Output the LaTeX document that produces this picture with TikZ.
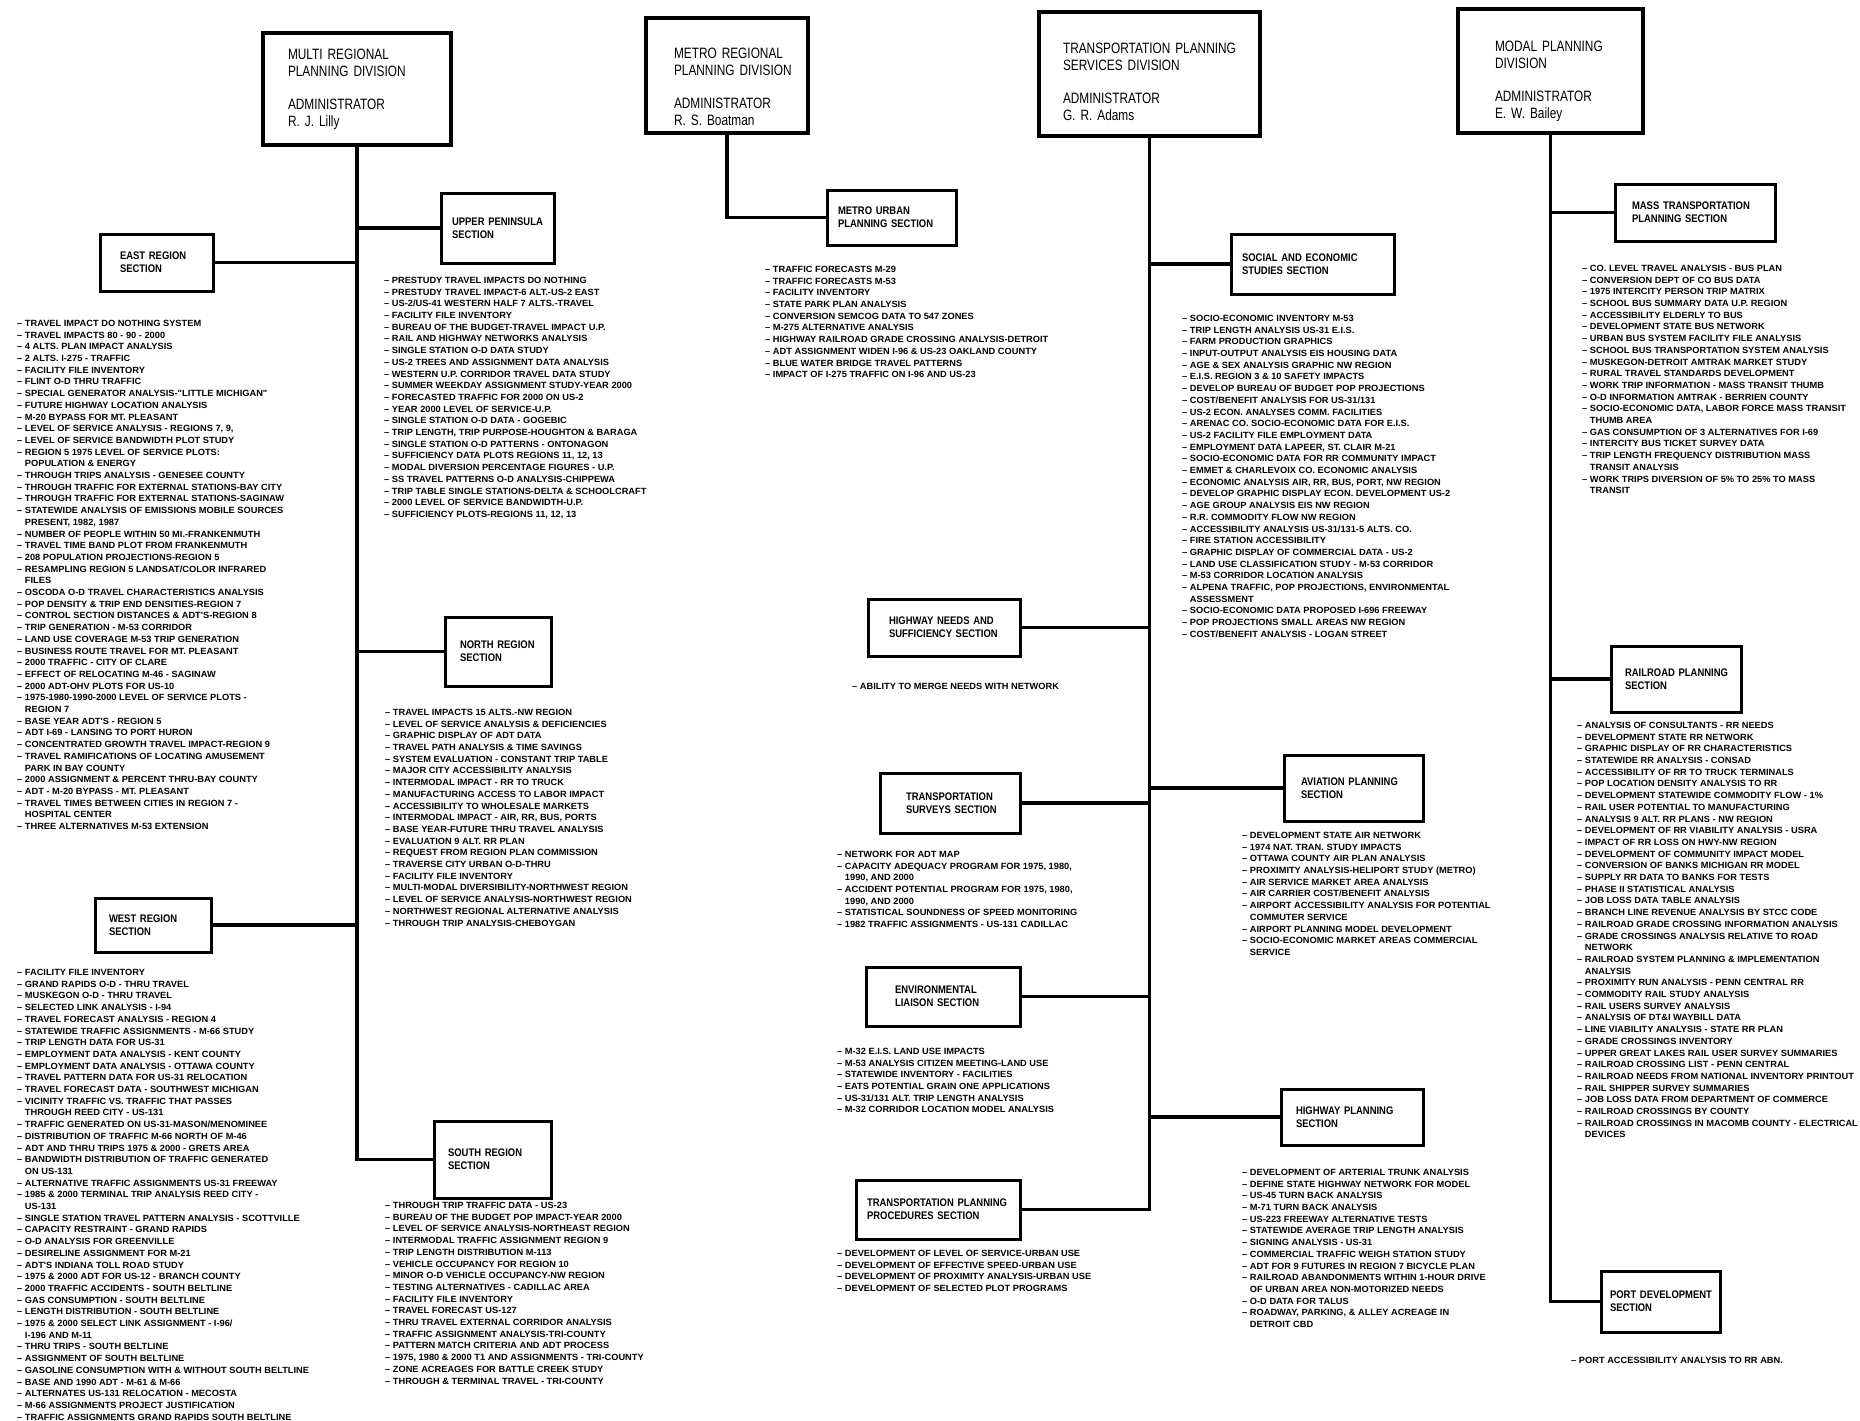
\documentclass[tikz,border=0pt]{standalone}
\usepackage{fontspec}
\usepackage{tikz}
\newfontfamily\divfont{Liberation Sans}[FakeStretch=0.79]
\newfontfamily\secfont{Liberation Sans}[FakeStretch=0.86]
\newfontfamily\listfont{Liberation Sans}[FakeStretch=1.03]
\newcommand{\task}{\textendash\ }
\newcommand{\taskcont}{\hphantom{\textendash\ }}
\newcommand{\lowerby}[1]{\rule{0pt}{#1}}
\tikzstyle{divbox} = [rectangle, draw, line width=3.5pt, align=left, inner xsep=25pt, font=\divfont\fontsize{15}{17}\selectfont]
\tikzstyle{sectionbox} = [rectangle, draw, line width=3pt, align=left, inner xsep=15pt, font=\secfont\bfseries\fontsize{11}{13}\selectfont]
\tikzstyle{tasklist} = [anchor=north west, align=left, inner sep=0pt, font=\listfont\bfseries\fontsize{9}{11.7}\selectfont]
\tikzstyle{trunk} = [line width=3.5pt]

\begin{document}
\begin{tikzpicture}[x=1pt, y=-1pt]
    \fill[white] (0,0) rectangle (1860,1421);
    \useasboundingbox (0,0) rectangle (1860,1421);

    % Divisions
    \node[divbox, minimum width=188pt, minimum height=112pt, text width=138pt] (mrpd) at (357, 89) {\mbox{MULTI REGIONAL}\\\mbox{PLANNING DIVISION}\\[16pt]ADMINISTRATOR\\\mbox{R. J. Lilly}};
    \node[divbox, minimum width=162pt, minimum height=115pt, inner xsep=28pt, text width=106pt] (mrrpd) at (727, 75.5) {\lowerby{33pt}\mbox{METRO REGIONAL}\\\mbox{PLANNING DIVISION}\\[16pt]ADMINISTRATOR\\\mbox{R. S. Boatman}};
    \node[divbox, minimum width=221pt, minimum height=124pt, inner xsep=24pt, text width=173pt] (tpsd) at (1149.5, 74) {\lowerby{27pt}\mbox{TRANSPORTATION PLANNING}\\\mbox{SERVICES DIVISION}\\[16pt]ADMINISTRATOR\\\mbox{G. R. Adams}};
    \node[divbox, minimum width=185pt, minimum height=124pt, inner xsep=37pt, text width=111pt] (mpd) at (1550.5, 71) {\lowerby{31pt}\mbox{MODAL PLANNING}\\DIVISION\\[16pt]ADMINISTRATOR\\\mbox{E. W. Bailey}};

    % Sections
    \node[sectionbox, minimum height=70pt, inner xsep=11pt, text width=91pt] (ups) at (497.5, 228) {\mbox{UPPER PENINSULA}\\SECTION};
    \node[sectionbox, minimum height=57pt, inner xsep=20pt, text width=73pt] (east) at (156.5, 262.5) {\mbox{EAST REGION}\\SECTION};
    \node[sectionbox, minimum height=69pt, inner xsep=15pt, text width=76pt] (north) at (498, 651.5) {\mbox{NORTH REGION}\\SECTION};
    \node[sectionbox, minimum height=54pt, inner xsep=14pt, text width=88pt] (west) at (153, 925) {\mbox{WEST REGION}\\SECTION};
    \node[sectionbox, minimum height=77pt, inner xsep=14pt, text width=89pt] (south) at (492.5, 1159.5) {\mbox{SOUTH REGION}\\SECTION};
    \node[sectionbox, minimum height=55pt, inner xsep=11pt, text width=107pt] (mu) at (891.5, 217.5) {\mbox{METRO URBAN}\\\mbox{PLANNING SECTION}};
    \node[sectionbox, minimum height=60pt, inner xsep=11pt, text width=141pt] (socio) at (1312.5, 264) {\mbox{SOCIAL AND ECONOMIC}\\\mbox{STUDIES SECTION}};
    \node[sectionbox, minimum height=57pt, inner xsep=21pt, text width=110pt] (hns) at (944, 627.5) {\mbox{HIGHWAY NEEDS AND}\\\mbox{SUFFICIENCY SECTION}};
    \node[sectionbox, minimum height=66pt, inner xsep=17pt, text width=105pt] (avi) at (1353.5, 788) {\mbox{AVIATION PLANNING}\\SECTION};
    \node[sectionbox, minimum height=60pt, inner xsep=26pt, text width=88pt] (tss) at (950, 803) {TRANSPORTATION\\\mbox{SURVEYS SECTION}};
    \node[sectionbox, minimum height=59pt, inner xsep=29pt, text width=96pt] (env) at (943, 996.5) {ENVIRONMENTAL\\\mbox{LIAISON SECTION}};
    \node[sectionbox, minimum height=59pt, inner xsep=11pt, text width=142pt] (tpp) at (938, 1209.5) {\mbox{TRANSPORTATION PLANNING}\\\mbox{PROCEDURES SECTION}};
    \node[sectionbox, minimum height=56pt, inner xsep=15pt, text width=112pt] (hps) at (1352, 1117) {\mbox{HIGHWAY PLANNING}\\SECTION};
    \node[sectionbox, minimum height=57pt, inner xsep=17pt, text width=126pt] (mts) at (1695, 212.5) {\mbox{MASS TRANSPORTATION}\\\mbox{PLANNING SECTION}};
    \node[sectionbox, minimum height=66pt, inner xsep=14pt, text width=102pt] (rps) at (1676, 679) {\mbox{RAILROAD PLANNING}\\SECTION};
    \node[sectionbox, minimum height=61pt, inner xsep=9pt, text width=101pt] (pds) at (1660.5, 1301.5) {\mbox{PORT DEVELOPMENT}\\SECTION};

    % Trunks and branches
    \draw[trunk] (mrpd.south) |- (south.west);
    \draw[trunk] (ups.west) -- (ups.west -| mrpd.south);
    \draw[trunk] (east.east) -- (east.east -| mrpd.south);
    \draw[trunk] (north.west) -- (north.west -| mrpd.south);
    \draw[trunk] (west.east) -- (west.east -| mrpd.south);
    \draw[trunk] (mrrpd.south) |- (mu.west);
    \draw[trunk] (tpsd.south) |- (tpp.east);
    \draw[trunk] (socio.west) -- (socio.west -| tpsd.south);
    \draw[trunk] (hns.east) -- (hns.east -| tpsd.south);
    \draw[trunk] (avi.west) -- (avi.west -| tpsd.south);
    \draw[trunk] (tss.east) -- (tss.east -| tpsd.south);
    \draw[trunk] (env.east) -- (env.east -| tpsd.south);
    \draw[trunk] (hps.west) -- (hps.west -| tpsd.south);
    \draw[trunk] (mpd.south) |- (pds.west);
    \draw[trunk] (mts.west) -- (mts.west -| mpd.south);
    \draw[trunk] (rps.west) -- (rps.west -| mpd.south);

    % Work lists
    \node[tasklist] (eastlist) at (17, 320) {%
\task TRAVEL IMPACT DO NOTHING SYSTEM\\
\task TRAVEL IMPACTS 80 - 90 - 2000\\
\task 4 ALTS. PLAN IMPACT ANALYSIS\\
\task 2 ALTS. I-275 - TRAFFIC\\
\task FACILITY FILE INVENTORY\\
\task FLINT O-D THRU TRAFFIC\\
\task SPECIAL GENERATOR ANALYSIS-"LITTLE MICHIGAN"\\
\task FUTURE HIGHWAY LOCATION ANALYSIS\\
\task M-20 BYPASS FOR MT. PLEASANT\\
\task LEVEL OF SERVICE ANALYSIS - REGIONS 7, 9,\\
\task LEVEL OF SERVICE BANDWIDTH PLOT STUDY\\
\task REGION 5 1975 LEVEL OF SERVICE PLOTS:\\
\taskcont POPULATION \& ENERGY\\
\task THROUGH TRIPS ANALYSIS - GENESEE COUNTY\\
\task THROUGH TRAFFIC FOR EXTERNAL STATIONS-BAY CITY\\
\task THROUGH TRAFFIC FOR EXTERNAL STATIONS-SAGINAW\\
\task STATEWIDE ANALYSIS OF EMISSIONS MOBILE SOURCES\\
\taskcont PRESENT, 1982, 1987\\
\task NUMBER OF PEOPLE WITHIN 50 MI.-FRANKENMUTH\\
\task TRAVEL TIME BAND PLOT FROM FRANKENMUTH\\
\task 208 POPULATION PROJECTIONS-REGION 5\\
\task RESAMPLING REGION 5 LANDSAT/COLOR INFRARED\\
\taskcont FILES\\
\task OSCODA O-D TRAVEL CHARACTERISTICS ANALYSIS\\
\task POP DENSITY \& TRIP END DENSITIES-REGION 7\\
\task CONTROL SECTION DISTANCES \& ADT'S-REGION 8\\
\task TRIP GENERATION - M-53 CORRIDOR\\
\task LAND USE COVERAGE M-53 TRIP GENERATION\\
\task BUSINESS ROUTE TRAVEL FOR MT. PLEASANT\\
\task 2000 TRAFFIC - CITY OF CLARE\\
\task EFFECT OF RELOCATING M-46 - SAGINAW\\
\task 2000 ADT-OHV PLOTS FOR US-10\\
\task 1975-1980-1990-2000 LEVEL OF SERVICE PLOTS -\\
\taskcont REGION 7\\
\task BASE YEAR ADT'S - REGION 5\\
\task ADT I-69 - LANSING TO PORT HURON\\
\task CONCENTRATED GROWTH TRAVEL IMPACT-REGION 9\\
\task TRAVEL RAMIFICATIONS OF LOCATING AMUSEMENT\\
\taskcont PARK IN BAY COUNTY\\
\task 2000 ASSIGNMENT \& PERCENT THRU-BAY COUNTY\\
\task ADT - M-20 BYPASS - MT. PLEASANT\\
\task TRAVEL TIMES BETWEEN CITIES IN REGION 7 -\\
\taskcont HOSPITAL CENTER\\
\task THREE ALTERNATIVES M-53 EXTENSION};

    \node[tasklist] (upslist) at (384, 277) {%
\task PRESTUDY TRAVEL IMPACTS DO NOTHING\\
\task PRESTUDY TRAVEL IMPACT-6 ALT.-US-2 EAST\\
\task US-2/US-41 WESTERN HALF 7 ALTS.-TRAVEL\\
\task FACILITY FILE INVENTORY\\
\task BUREAU OF THE BUDGET-TRAVEL IMPACT U.P.\\
\task RAIL AND HIGHWAY NETWORKS ANALYSIS\\
\task SINGLE STATION O-D DATA STUDY\\
\task US-2 TREES AND ASSIGNMENT DATA ANALYSIS\\
\task WESTERN U.P. CORRIDOR TRAVEL DATA STUDY\\
\task SUMMER WEEKDAY ASSIGNMENT STUDY-YEAR 2000\\
\task FORECASTED TRAFFIC FOR 2000 ON US-2\\
\task YEAR 2000 LEVEL OF SERVICE-U.P.\\
\task SINGLE STATION O-D DATA - GOGEBIC\\
\task TRIP LENGTH, TRIP PURPOSE-HOUGHTON \& BARAGA\\
\task SINGLE STATION O-D PATTERNS - ONTONAGON\\
\task SUFFICIENCY DATA PLOTS REGIONS 11, 12, 13\\
\task MODAL DIVERSION PERCENTAGE FIGURES - U.P.\\
\task SS TRAVEL PATTERNS O-D ANALYSIS-CHIPPEWA\\
\task TRIP TABLE SINGLE STATIONS-DELTA \& SCHOOLCRAFT\\
\task 2000 LEVEL OF SERVICE BANDWIDTH-U.P.\\
\task SUFFICIENCY PLOTS-REGIONS 11, 12, 13};

    \node[tasklist] (northlist) at (385, 709) {%
\task TRAVEL IMPACTS 15 ALTS.-NW REGION\\
\task LEVEL OF SERVICE ANALYSIS \& DEFICIENCIES\\
\task GRAPHIC DISPLAY OF ADT DATA\\
\task TRAVEL PATH ANALYSIS \& TIME SAVINGS\\
\task SYSTEM EVALUATION - CONSTANT TRIP TABLE\\
\task MAJOR CITY ACCESSIBILITY ANALYSIS\\
\task INTERMODAL IMPACT - RR TO TRUCK\\
\task MANUFACTURING ACCESS TO LABOR IMPACT\\
\task ACCESSIBILITY TO WHOLESALE MARKETS\\
\task INTERMODAL IMPACT - AIR, RR, BUS, PORTS\\
\task BASE YEAR-FUTURE THRU TRAVEL ANALYSIS\\
\task EVALUATION 9 ALT. RR PLAN\\
\task REQUEST FROM REGION PLAN COMMISSION\\
\task TRAVERSE CITY URBAN O-D-THRU\\
\task FACILITY FILE INVENTORY\\
\task MULTI-MODAL DIVERSIBILITY-NORTHWEST REGION\\
\task LEVEL OF SERVICE ANALYSIS-NORTHWEST REGION\\
\task NORTHWEST REGIONAL ALTERNATIVE ANALYSIS\\
\task THROUGH TRIP ANALYSIS-CHEBOYGAN};

    \node[tasklist] (westlist) at (17, 969) {%
\task FACILITY FILE INVENTORY\\
\task GRAND RAPIDS O-D - THRU TRAVEL\\
\task MUSKEGON O-D - THRU TRAVEL\\
\task SELECTED LINK ANALYSIS - I-94\\
\task TRAVEL FORECAST ANALYSIS - REGION 4\\
\task STATEWIDE TRAFFIC ASSIGNMENTS - M-66 STUDY\\
\task TRIP LENGTH DATA FOR US-31\\
\task EMPLOYMENT DATA ANALYSIS - KENT COUNTY\\
\task EMPLOYMENT DATA ANALYSIS - OTTAWA COUNTY\\
\task TRAVEL PATTERN DATA FOR US-31 RELOCATION\\
\task TRAVEL FORECAST DATA - SOUTHWEST MICHIGAN\\
\task VICINITY TRAFFIC VS. TRAFFIC THAT PASSES\\
\taskcont THROUGH REED CITY - US-131\\
\task TRAFFIC GENERATED ON US-31-MASON/MENOMINEE\\
\task DISTRIBUTION OF TRAFFIC M-66 NORTH OF M-46\\
\task ADT AND THRU TRIPS 1975 \& 2000 - GRETS AREA\\
\task BANDWIDTH DISTRIBUTION OF TRAFFIC GENERATED\\
\taskcont ON US-131\\
\task ALTERNATIVE TRAFFIC ASSIGNMENTS US-31 FREEWAY\\
\task 1985 \& 2000 TERMINAL TRIP ANALYSIS REED CITY -\\
\taskcont US-131\\
\task SINGLE STATION TRAVEL PATTERN ANALYSIS - SCOTTVILLE\\
\task CAPACITY RESTRAINT - GRAND RAPIDS\\
\task O-D ANALYSIS FOR GREENVILLE\\
\task DESIRELINE ASSIGNMENT FOR M-21\\
\task ADT'S INDIANA TOLL ROAD STUDY\\
\task 1975 \& 2000 ADT FOR US-12 - BRANCH COUNTY\\
\task 2000 TRAFFIC ACCIDENTS - SOUTH BELTLINE\\
\task GAS CONSUMPTION - SOUTH BELTLINE\\
\task LENGTH DISTRIBUTION - SOUTH BELTLINE\\
\task 1975 \& 2000 SELECT LINK ASSIGNMENT - I-96/\\
\taskcont I-196 AND M-11\\
\task THRU TRIPS - SOUTH BELTLINE\\
\task ASSIGNMENT OF SOUTH BELTLINE\\
\task GASOLINE CONSUMPTION WITH \& WITHOUT SOUTH BELTLINE\\
\task BASE AND 1990 ADT - M-61 \& M-66\\
\task ALTERNATES US-131 RELOCATION - MECOSTA\\
\task M-66 ASSIGNMENTS PROJECT JUSTIFICATION\\
\task TRAFFIC ASSIGNMENTS GRAND RAPIDS SOUTH BELTLINE};

    \node[tasklist] (southlist) at (385, 1202) {%
\task THROUGH TRIP TRAFFIC DATA - US-23\\
\task BUREAU OF THE BUDGET POP IMPACT-YEAR 2000\\
\task LEVEL OF SERVICE ANALYSIS-NORTHEAST REGION\\
\task INTERMODAL TRAFFIC ASSIGNMENT REGION 9\\
\task TRIP LENGTH DISTRIBUTION M-113\\
\task VEHICLE OCCUPANCY FOR REGION 10\\
\task MINOR O-D VEHICLE OCCUPANCY-NW REGION\\
\task TESTING ALTERNATIVES - CADILLAC AREA\\
\task FACILITY FILE INVENTORY\\
\task TRAVEL FORECAST US-127\\
\task THRU TRAVEL EXTERNAL CORRIDOR ANALYSIS\\
\task TRAFFIC ASSIGNMENT ANALYSIS-TRI-COUNTY\\
\task PATTERN MATCH CRITERIA AND ADT PROCESS\\
\task 1975, 1980 \& 2000 T1 AND ASSIGNMENTS - TRI-COUNTY\\
\task ZONE ACREAGES FOR BATTLE CREEK STUDY\\
\task THROUGH \& TERMINAL TRAVEL - TRI-COUNTY};

    \node[tasklist] (mulist) at (765, 266) {%
\task TRAFFIC FORECASTS M-29\\
\task TRAFFIC FORECASTS M-53\\
\task FACILITY INVENTORY\\
\task STATE PARK PLAN ANALYSIS\\
\task CONVERSION SEMCOG DATA TO 547 ZONES\\
\task M-275 ALTERNATIVE ANALYSIS\\
\task HIGHWAY RAILROAD GRADE CROSSING ANALYSIS-DETROIT\\
\task ADT ASSIGNMENT WIDEN I-96 \& US-23 OAKLAND COUNTY\\
\task BLUE WATER BRIDGE TRAVEL PATTERNS\\
\task IMPACT OF I-275 TRAFFIC ON I-96 AND US-23};

    \node[tasklist] (sociolist) at (1182, 315) {%
\task SOCIO-ECONOMIC INVENTORY M-53\\
\task TRIP LENGTH ANALYSIS US-31 E.I.S.\\
\task FARM PRODUCTION GRAPHICS\\
\task INPUT-OUTPUT ANALYSIS EIS HOUSING DATA\\
\task AGE \& SEX ANALYSIS GRAPHIC NW REGION\\
\task E.I.S. REGION 3 \& 10 SAFETY IMPACTS\\
\task DEVELOP BUREAU OF BUDGET POP PROJECTIONS\\
\task COST/BENEFIT ANALYSIS FOR US-31/131\\
\task US-2 ECON. ANALYSES COMM. FACILITIES\\
\task ARENAC CO. SOCIO-ECONOMIC DATA FOR E.I.S.\\
\task US-2 FACILITY FILE EMPLOYMENT DATA\\
\task EMPLOYMENT DATA LAPEER, ST. CLAIR M-21\\
\task SOCIO-ECONOMIC DATA FOR RR COMMUNITY IMPACT\\
\task EMMET \& CHARLEVOIX CO. ECONOMIC ANALYSIS\\
\task ECONOMIC ANALYSIS AIR, RR, BUS, PORT, NW REGION\\
\task DEVELOP GRAPHIC DISPLAY ECON. DEVELOPMENT US-2\\
\task AGE GROUP ANALYSIS EIS NW REGION\\
\task R.R. COMMODITY FLOW NW REGION\\
\task ACCESSIBILITY ANALYSIS US-31/131-5 ALTS. CO.\\
\task FIRE STATION ACCESSIBILITY\\
\task GRAPHIC DISPLAY OF COMMERCIAL DATA - US-2\\
\task LAND USE CLASSIFICATION STUDY - M-53 CORRIDOR\\
\task M-53 CORRIDOR LOCATION ANALYSIS\\
\task ALPENA TRAFFIC, POP PROJECTIONS, ENVIRONMENTAL\\
\taskcont ASSESSMENT\\
\task SOCIO-ECONOMIC DATA PROPOSED I-696 FREEWAY\\
\task POP PROJECTIONS SMALL AREAS NW REGION\\
\task COST/BENEFIT ANALYSIS - LOGAN STREET};

    \node[tasklist] (hnslist) at (852, 683) {\task ABILITY TO MERGE NEEDS WITH NETWORK};

    \node[tasklist] (tsslist) at (837, 851) {%
\task NETWORK FOR ADT MAP\\
\task CAPACITY ADEQUACY PROGRAM FOR 1975, 1980,\\
\taskcont 1990, AND 2000\\
\task ACCIDENT POTENTIAL PROGRAM FOR 1975, 1980,\\
\taskcont 1990, AND 2000\\
\task STATISTICAL SOUNDNESS OF SPEED MONITORING\\
\task 1982 TRAFFIC ASSIGNMENTS - US-131 CADILLAC};

    \node[tasklist] (envlist) at (837, 1048) {%
\task M-32 E.I.S. LAND USE IMPACTS\\
\task M-53 ANALYSIS CITIZEN MEETING-LAND USE\\
\task STATEWIDE INVENTORY - FACILITIES\\
\task EATS POTENTIAL GRAIN ONE APPLICATIONS\\
\task US-31/131 ALT. TRIP LENGTH ANALYSIS\\
\task M-32 CORRIDOR LOCATION MODEL ANALYSIS};

    \node[tasklist] (tpplist) at (837, 1250) {%
\task DEVELOPMENT OF LEVEL OF SERVICE-URBAN USE\\
\task DEVELOPMENT OF EFFECTIVE SPEED-URBAN USE\\
\task DEVELOPMENT OF PROXIMITY ANALYSIS-URBAN USE\\
\task DEVELOPMENT OF SELECTED PLOT PROGRAMS};

    \node[tasklist] (avilist) at (1242, 832) {%
\task DEVELOPMENT STATE AIR NETWORK\\
\task 1974 NAT. TRAN. STUDY IMPACTS\\
\task OTTAWA COUNTY AIR PLAN ANALYSIS\\
\task PROXIMITY ANALYSIS-HELIPORT STUDY (METRO)\\
\task AIR SERVICE MARKET AREA ANALYSIS\\
\task AIR CARRIER COST/BENEFIT ANALYSIS\\
\task AIRPORT ACCESSIBILITY ANALYSIS FOR POTENTIAL\\
\taskcont COMMUTER SERVICE\\
\task AIRPORT PLANNING MODEL DEVELOPMENT\\
\task SOCIO-ECONOMIC MARKET AREAS COMMERCIAL\\
\taskcont SERVICE};

    \node[tasklist] (hpslist) at (1242, 1169) {%
\task DEVELOPMENT OF ARTERIAL TRUNK ANALYSIS\\
\task DEFINE STATE HIGHWAY NETWORK FOR MODEL\\
\task US-45 TURN BACK ANALYSIS\\
\task M-71 TURN BACK ANALYSIS\\
\task US-223 FREEWAY ALTERNATIVE TESTS\\
\task STATEWIDE AVERAGE TRIP LENGTH ANALYSIS\\
\task SIGNING ANALYSIS - US-31\\
\task COMMERCIAL TRAFFIC WEIGH STATION STUDY\\
\task ADT FOR 9 FUTURES IN REGION 7 BICYCLE PLAN\\
\task RAILROAD ABANDONMENTS WITHIN 1-HOUR DRIVE\\
\taskcont OF URBAN AREA NON-MOTORIZED NEEDS\\
\task O-D DATA FOR TALUS\\
\task ROADWAY, PARKING, \& ALLEY ACREAGE IN\\
\taskcont DETROIT CBD};

    \node[tasklist] (mtslist) at (1582, 265) {%
\task CO. LEVEL TRAVEL ANALYSIS - BUS PLAN\\
\task CONVERSION DEPT OF CO BUS DATA\\
\task 1975 INTERCITY PERSON TRIP MATRIX\\
\task SCHOOL BUS SUMMARY DATA U.P. REGION\\
\task ACCESSIBILITY ELDERLY TO BUS\\
\task DEVELOPMENT STATE BUS NETWORK\\
\task URBAN BUS SYSTEM FACILITY FILE ANALYSIS\\
\task SCHOOL BUS TRANSPORTATION SYSTEM ANALYSIS\\
\task MUSKEGON-DETROIT AMTRAK MARKET STUDY\\
\task RURAL TRAVEL STANDARDS DEVELOPMENT\\
\task WORK TRIP INFORMATION - MASS TRANSIT THUMB\\
\task O-D INFORMATION AMTRAK - BERRIEN COUNTY\\
\task SOCIO-ECONOMIC DATA, LABOR FORCE MASS TRANSIT\\
\taskcont THUMB AREA\\
\task GAS CONSUMPTION OF 3 ALTERNATIVES FOR I-69\\
\task INTERCITY BUS TICKET SURVEY DATA\\
\task TRIP LENGTH FREQUENCY DISTRIBUTION MASS\\
\taskcont TRANSIT ANALYSIS\\
\task WORK TRIPS DIVERSION OF 5\% TO 25\% TO MASS\\
\taskcont TRANSIT};

    \node[tasklist] (rpslist) at (1577, 722) {%
\task ANALYSIS OF CONSULTANTS - RR NEEDS\\
\task DEVELOPMENT STATE RR NETWORK\\
\task GRAPHIC DISPLAY OF RR CHARACTERISTICS\\
\task STATEWIDE RR ANALYSIS - CONSAD\\
\task ACCESSIBILITY OF RR TO TRUCK TERMINALS\\
\task POP LOCATION DENSITY ANALYSIS TO RR\\
\task DEVELOPMENT STATEWIDE COMMODITY FLOW - 1\%\\
\task RAIL USER POTENTIAL TO MANUFACTURING\\
\task ANALYSIS 9 ALT. RR PLANS - NW REGION\\
\task DEVELOPMENT OF RR VIABILITY ANALYSIS - USRA\\
\task IMPACT OF RR LOSS ON HWY-NW REGION\\
\task DEVELOPMENT OF COMMUNITY IMPACT MODEL\\
\task CONVERSION OF BANKS MICHIGAN RR MODEL\\
\task SUPPLY RR DATA TO BANKS FOR TESTS\\
\task PHASE II STATISTICAL ANALYSIS\\
\task JOB LOSS DATA TABLE ANALYSIS\\
\task BRANCH LINE REVENUE ANALYSIS BY STCC CODE\\
\task RAILROAD GRADE CROSSING INFORMATION ANALYSIS\\
\task GRADE CROSSINGS ANALYSIS RELATIVE TO ROAD\\
\taskcont NETWORK\\
\task RAILROAD SYSTEM PLANNING \& IMPLEMENTATION\\
\taskcont ANALYSIS\\
\task PROXIMITY RUN ANALYSIS - PENN CENTRAL RR\\
\task COMMODITY RAIL STUDY ANALYSIS\\
\task RAIL USERS SURVEY ANALYSIS\\
\task ANALYSIS OF DT\&I WAYBILL DATA\\
\task LINE VIABILITY ANALYSIS - STATE RR PLAN\\
\task GRADE CROSSINGS INVENTORY\\
\task UPPER GREAT LAKES RAIL USER SURVEY SUMMARIES\\
\task RAILROAD CROSSING LIST - PENN CENTRAL\\
\task RAILROAD NEEDS FROM NATIONAL INVENTORY PRINTOUT\\
\task RAIL SHIPPER SURVEY SUMMARIES\\
\task JOB LOSS DATA FROM DEPARTMENT OF COMMERCE\\
\task RAILROAD CROSSINGS BY COUNTY\\
\task RAILROAD CROSSINGS IN MACOMB COUNTY - ELECTRICAL\\
\taskcont DEVICES};

    \node[tasklist] (pdslist) at (1571, 1357) {\task PORT ACCESSIBILITY ANALYSIS TO RR ABN.};
\end{tikzpicture}
\end{document}
